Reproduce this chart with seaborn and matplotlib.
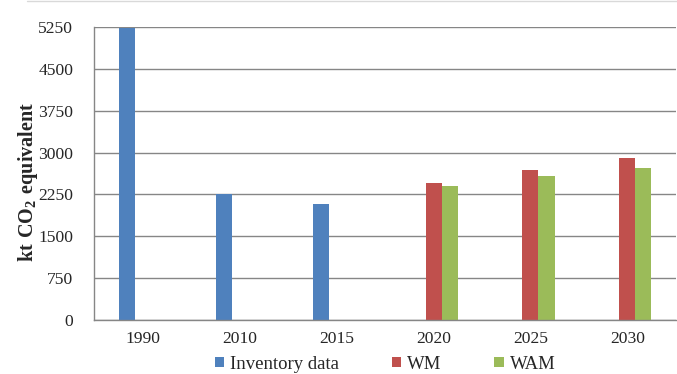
import pandas as pd
import seaborn as sns
import matplotlib.pyplot as plt
from matplotlib.patches import Patch
from matplotlib.lines import Line2D
from matplotlib.ticker import FixedLocator

years = ["1990", "2010", "2015", "2020", "2025", "2030"]
series = ["Inventory data", "WM", "WAM"]
inventory = [5230, 2260, 2080, None, None, None]
wm = [None, None, None, 2460, 2680, 2905]
wam = [None, None, None, 2400, 2575, 2730]
colors = ["#4F81BD", "#C0504D", "#9BBB59"]
yticks = [0, 750, 1500, 2250, 3000, 3750, 4500, 5250]

rows = []
for name, vals in zip(series, [inventory, wm, wam]):
    for y, v in zip(years, vals):
        if v is not None:
            rows.append({"year": y, "series": name, "value": v})
df = pd.DataFrame(rows)

sns.set_style("white")
plt.rcParams["font.family"] = ["Liberation Serif", "DejaVu Serif"]
plt.rcParams["mathtext.fontset"] = "custom"
plt.rcParams["mathtext.bf"] = "Liberation Serif:bold"
plt.rcParams["mathtext.rm"] = "Liberation Serif"

fig = plt.figure(figsize=(6.77, 3.74), dpi=100)
ax = fig.add_axes([0.1389, 0.1444, 0.8596, 0.7834])

sns.barplot(data=df, x="year", y="value", hue="series", order=years,
            hue_order=series, palette=colors, width=0.495, dodge=True,
            saturation=1, linewidth=0, ax=ax, legend=False)

ax.set_ylim(0, 5250)
ax.set_xlim(-0.5, 5.5)
ax.set_yticks(yticks)
ax.set_yticklabels([str(t) for t in yticks], fontsize=12.6)
ax.set_xticks(range(len(years)))
ax.set_xticklabels(years, fontsize=12.6)
ax.tick_params(axis="x", which="major", length=0, pad=8)
ax.xaxis.set_minor_locator(FixedLocator([i - 0.5 for i in range(len(years) + 1)]))
ax.tick_params(axis="x", which="minor", length=5, width=1, color="#868686", direction="out")
ax.tick_params(axis="y", length=5, width=1, color="#868686", direction="out", pad=10)
ax.yaxis.grid(True, color="#868686", linewidth=1)
ax.set_axisbelow(True)
for s in ["top", "right"]:
    ax.spines[s].set_visible(False)
for s in ["left", "bottom"]:
    ax.spines[s].set_color("#868686")
    ax.spines[s].set_linewidth(1)
ax.set_xlabel("")
ax.set_ylabel(r"$\mathbf{kt\ CO_2\ equivalent}$", fontsize=14.5)
ax.yaxis.set_label_coords(-0.092, 0.47)

handles = [Patch(facecolor=c, edgecolor="none") for c in colors]
fig.legend(handles, series, loc="center", bbox_to_anchor=(0.569, 0.026),
           ncol=3, frameon=False, fontsize=13.5, handlelength=0.5, handleheight=0.5,
           handletextpad=0.32, columnspacing=2.8, borderpad=0)

fig.add_artist(Line2D([0.04, 1], [0.997, 0.997], color="#d9d9d9", linewidth=1))

fig.savefig("out.png", dpi=100)
